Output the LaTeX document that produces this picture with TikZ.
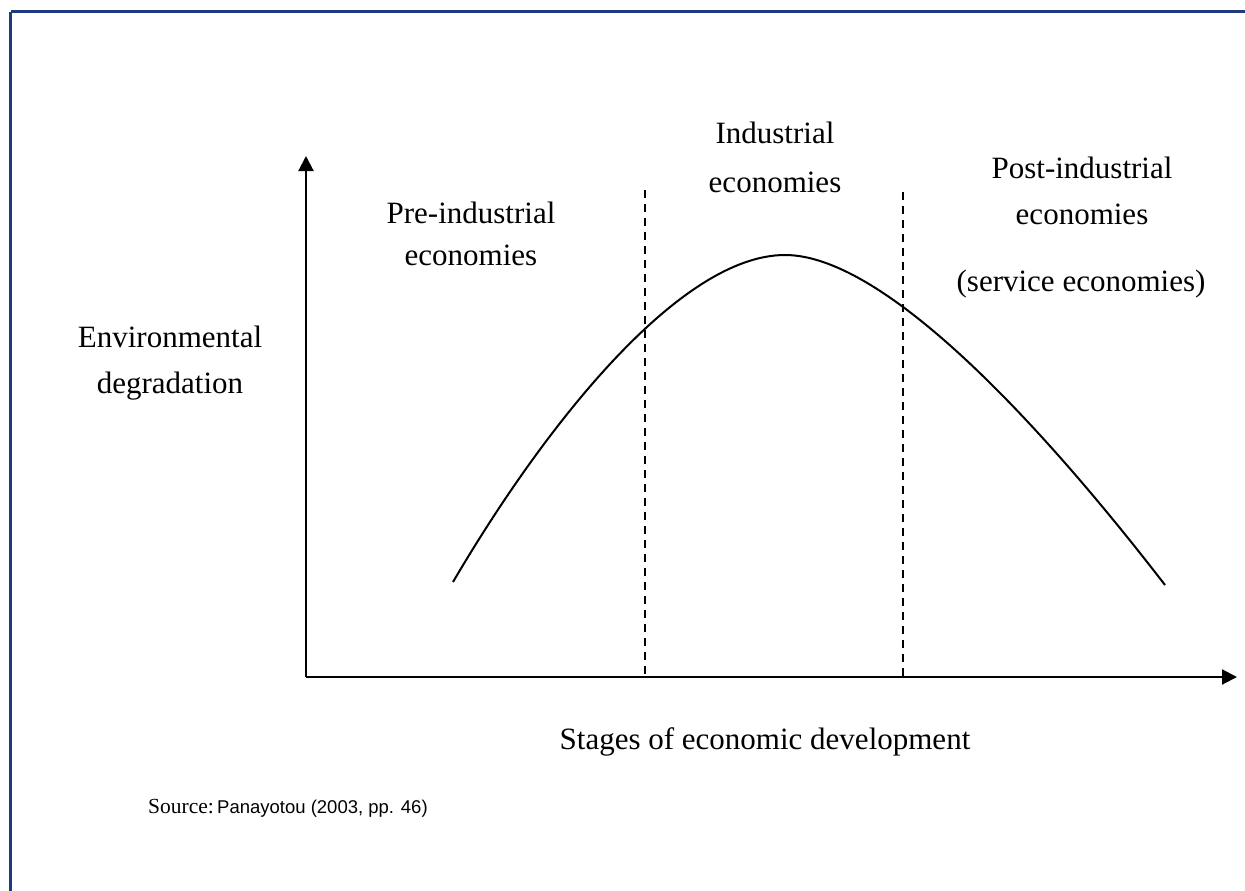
\documentclass[tikz,border=0pt]{standalone}
\usepackage{fontspec}
\setmainfont{Liberation Serif}
\newfontfamily\arialfont{Liberation Sans}
\newfontfamily\timesfont{Liberation Serif}
\usetikzlibrary{arrows.meta}
\definecolor{framecol}{HTML}{1F3A80}
\tikzset{
  lbl/.style={inner sep=0pt, anchor=base, font=\fontsize{31}{40}\selectfont},
  axis/.style={line width=2pt, -{Triangle[length=15pt,width=15pt]}},
  divider/.style={line width=1.6pt, dash pattern=on 8pt off 6pt},
  curve/.style={line width=2pt}
}
\begin{document}
\begin{tikzpicture}[x=1pt,y=-1pt]
\useasboundingbox (0,0) rectangle (1245,891);
\fill[white] (0,0) rectangle (1245,891);
\draw[framecol, line width=3pt] (10.5,12) -- (1260,12);
\draw[framecol, line width=3pt] (10.5,12) -- (10.5,900);
% axes
\coordinate (O) at (306,677);
\coordinate (ytip) at (306,156);
\coordinate (xtip) at (1237,677);
\draw[axis] (O) -- (ytip);
\draw[axis] (O) -- (xtip);
% dividers
\coordinate (d1t) at (645,190);
\coordinate (d1b) at (645,677);
\coordinate (d2t) at (903,192);
\coordinate (d2b) at (903,677);
\draw[divider] (d1t) -- (d1b);
\draw[divider] (d2t) -- (d2b);
% curve
\coordinate (cs) at (453,582);
\coordinate (cp) at (785,255);
\coordinate (ce) at (1165,585);
\draw[curve] (cs) .. controls (545,425) and (680,255) .. (cp)
             .. controls (880,255) and (1030,410) .. (ce);
% labels
\node[lbl] (pre1) at (471,223) {Pre-industrial};
\node[lbl] (pre2) at (471,265) {economies};
\node[lbl] (ind1) at (775,143) {Industrial};
\node[lbl] (ind2) at (775,192) {economies};
\node[lbl] (post1) at (1082,178) {Post-industrial};
\node[lbl] (post2) at (1082,224) {economies};
\node[lbl] (post3) at (1081,291) {(service economies)};
\node[lbl] (env1) at (170,347) {Environmental};
\node[lbl] (env2) at (170,393) {degradation};
\node[lbl] (xlab) at (765,749) {Stages of economic development};
\node[inner sep=0pt, anchor=base west] (src) at (148,813) {{\timesfont\fontsize{21.5}{26}\selectfont Source:} {\arialfont\fontsize{18.5}{24}\selectfont Panayotou (2003, pp. 46)}};
\end{tikzpicture}
\end{document}
